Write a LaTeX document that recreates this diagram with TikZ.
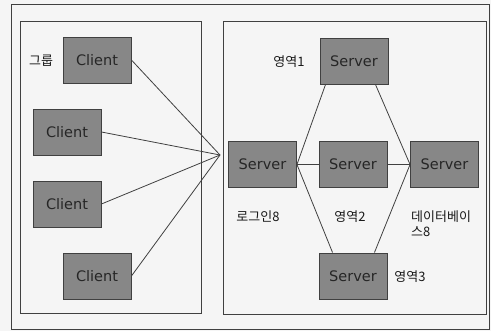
\documentclass[tikz,border=0pt]{standalone}
\usepackage{fontspec}
\setmainfont{Noto Sans CJK KR}
\newfontfamily\latinfont{DejaVu Sans}
\begin{document}
\begin{tikzpicture}[x=1pt,y=-1pt,
  frame/.style={draw=black!75, line width=1pt},
  box/.style={draw=black!75, line width=0.9pt, fill=black!47, minimum width=68pt, minimum height=46pt, inner sep=0pt, font=\latinfont\fontsize{14.5}{16}\selectfont, text=black!85},
  link/.style={draw=black!75, line width=0.8pt},
  lbl/.style={font=\fontsize{13}{15}\selectfont, text=black!90, inner sep=0pt}]
\fill[black!4] (0,0) rectangle (491,331);
\useasboundingbox (0,0) rectangle (491,331);
\draw[frame] (11,5) rectangle (489,330);
\draw[frame] (20,22) rectangle (201,314);
\draw[frame] (223,22) rectangle (486,315);
% clients
\node[box] (c1) at (97,60) {Client};
\node[box] (c2) at (67,132) {Client};
\node[box] (c3) at (67,204) {Client};
\node[box] (c4) at (97,276) {Client};
% servers
\node[box] (login) at (262.5,164.5) {Server};
\node[box] (mid) at (353,164.5) {Server};
\node[box] (db) at (444.5,164.5) {Server};
\node[box] (top) at (354,61) {Server};
\node[box] (bot) at (353,276) {Server};
\coordinate (hub) at (220,155);
\draw[link] (c1.east) -- (hub);
\draw[link] (c2.east) -- (hub);
\draw[link] (c3.east) -- (hub);
\draw[link] (c4.east) -- (hub);
\draw[link] (login.east) -- (mid.west);
\draw[link] (mid.east) -- (db.west);
\draw[link] (login.east) -- ([xshift=6pt]top.south west);
\draw[link] (db.west) -- ([xshift=-13pt]top.south east);
\draw[link] (login.east) -- ([xshift=14pt]bot.north west);
\draw[link] (db.west) -- ([xshift=-13pt]bot.north east);
% labels
\node[lbl] (g) at (41,61) {그룹};
\node[lbl] (a1) at (289,62) {영역1};
\node[lbl] (lg) at (258,217) {로그인8};
\node[lbl] (a2) at (350,217) {영역2};
\node[lbl, anchor=west, align=left] (dbl) at (411,224) {데이터베이\\스8};
\node[lbl] (a3) at (410,277) {영역3};
\end{tikzpicture}
\end{document}
